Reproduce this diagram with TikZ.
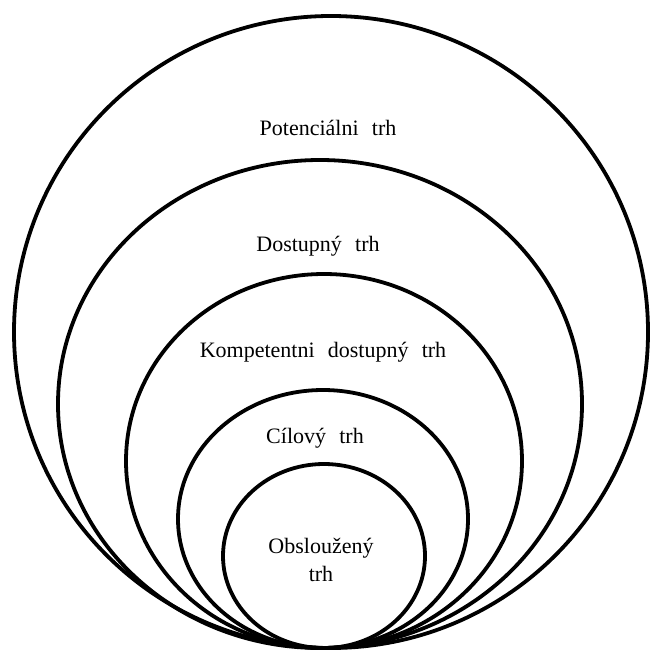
\documentclass[tikz,border=0pt]{standalone}
\usepackage{fontspec}
\setmainfont{Liberation Serif}
\tikzset{
  ring/.style={draw=black, line width=3.8pt},
  lbl/.style={font=\fontsize{22}{28}\selectfont, align=center, inner sep=0pt}
}
\begin{document}
\begin{tikzpicture}[x=1pt,y=-1pt]
\useasboundingbox (0,0) rectangle (651,652);
\fill[white] (0,0) rectangle (651,652);
\draw[ring] (331,332) ellipse [x radius=317, y radius=316];
\draw[ring] (320,404) ellipse [x radius=262, y radius=244];
\draw[ring] (324,461) ellipse [x radius=198, y radius=187];
\draw[ring] (323,519) ellipse [x radius=145, y radius=129];
\draw[ring] (324,556) ellipse [x radius=101, y radius=92];
\node[lbl] (pot) at (328,128) {Potenciálni\hspace{0.6em}trh};
\node[lbl] (dos) at (318,246) {Dostupný\hspace{0.6em}trh};
\node[lbl] (kom) at (323,352) {Kompetentni\hspace{0.6em}dostupný\hspace{0.6em}trh};
\node[lbl] (cil) at (315,438) {Cílový\hspace{0.6em}trh};
\node[lbl] (obs) at (321,560) {Obsloužený\\trh};
\end{tikzpicture}
\end{document}
